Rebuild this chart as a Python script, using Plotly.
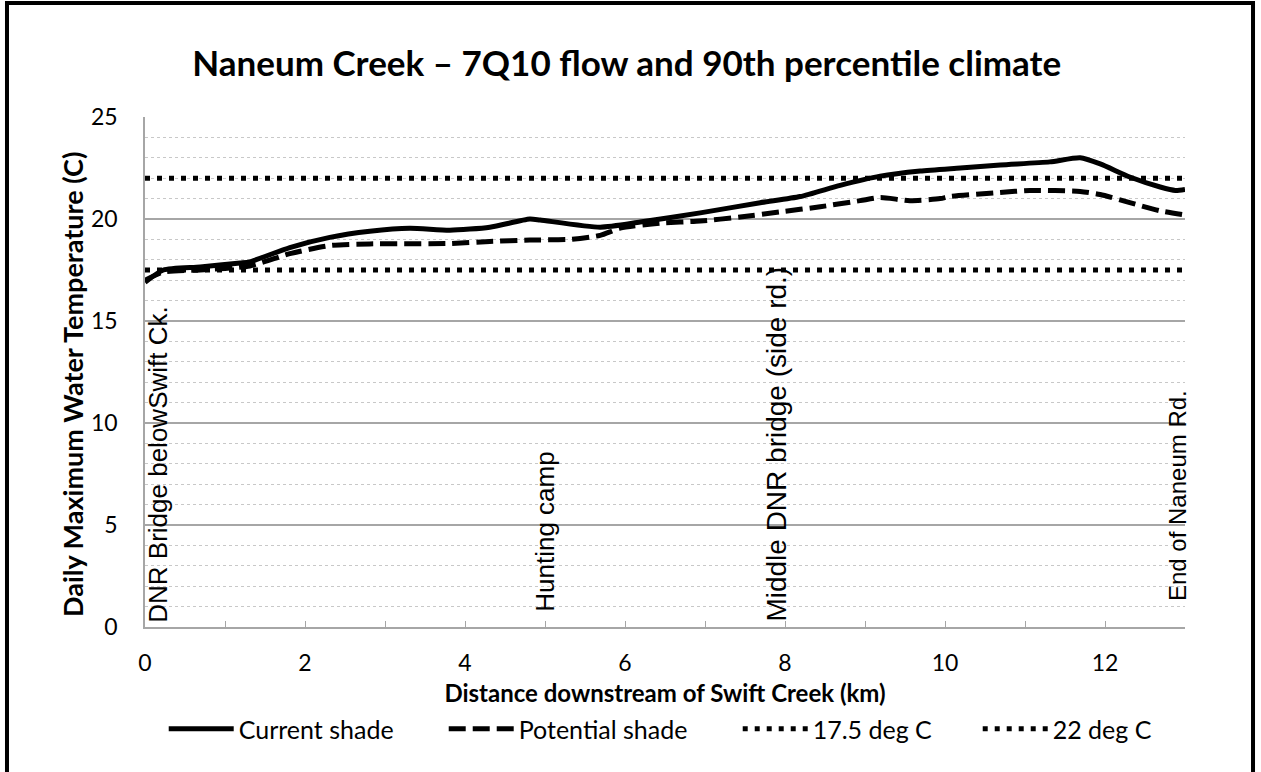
import plotly.graph_objects as go

# distance downstream (km) and temperatures (C)
current_km = [0.0, 0.23, 0.69, 1.19, 1.31, 1.81, 2.31, 2.81, 3.31, 3.81, 4.31, 4.81, 4.94,
              5.69, 6.19, 6.94, 7.69, 8.19, 8.69, 9.19, 9.69, 10.19, 10.69, 11.31, 11.69,
              11.94, 12.31, 12.69, 12.88, 13.0]
current_temp = [16.9, 17.5, 17.65, 17.84, 17.9, 18.6, 19.1, 19.4, 19.55, 19.45, 19.6, 20.0, 19.95,
                19.6, 19.85, 20.3, 20.8, 21.1, 21.65, 22.1, 22.35, 22.5, 22.65, 22.8, 23.0,
                22.7, 22.06, 21.57, 21.4, 21.45]

potential_km = [0.0, 0.23, 0.69, 1.31, 1.81, 2.31, 2.81, 3.81, 4.31, 4.81, 5.31, 5.69, 5.94,
                6.44, 6.94, 7.44, 7.94, 8.44, 8.94, 9.19, 9.56, 9.94, 10.06, 10.69, 11.06,
                11.69, 11.94, 12.31, 12.69, 13.0]
potential_temp = [17.0, 17.4, 17.5, 17.7, 18.3, 18.7, 18.78, 18.8, 18.9, 18.97, 19.0, 19.2, 19.55,
                  19.8, 19.9, 20.1, 20.35, 20.6, 20.9, 21.05, 20.9, 21.0, 21.1, 21.3, 21.4,
                  21.35, 21.2, 20.8, 20.4, 20.2]

threshold_km = [0, 13]
threshold_low = [17.5, 17.5]
threshold_high = [22, 22]

landmark_names = ["DNR Bridge belowSwift Ck.", "Hunting camp",
                  "Middle DNR bridge (side rd.)", "End of Naneum Rd."]
landmark_km = [0.16, 5.0, 7.89, 12.9]
landmark_base = [0.15, 0.7, 0.2, 1.2]
landmark_font_size = [26, 26, 28, 24]

FONT = "Lato"
LABEL_FONT = "Liberation Sans"
DOTS = "5px,7px"

fig = go.Figure()

fig.add_trace(go.Scatter(x=current_km, y=current_temp, mode="lines", name="Current shade",
                         legendwidth=200,
                         line=dict(color="black", width=5, shape="spline", smoothing=0.6)))
fig.add_trace(go.Scatter(x=potential_km, y=potential_temp, mode="lines", name="Potential shade",
                         legendwidth=214,
                         line=dict(color="black", width=5, shape="spline", smoothing=0.6,
                                   dash="17px,7px")))
fig.add_trace(go.Scatter(x=threshold_km, y=threshold_low, mode="lines", name="17.5 deg C",
                         legendwidth=160,
                         line=dict(color="black", width=5, dash=DOTS)))
fig.add_trace(go.Scatter(x=threshold_km, y=threshold_high, mode="lines", name="22 deg C",
                         legendwidth=100,
                         line=dict(color="black", width=5, dash=DOTS)))

for name, km, base, size in zip(landmark_names, landmark_km, landmark_base, landmark_font_size):
    fig.add_annotation(x=km, y=base, text=name, textangle=-90, showarrow=False,
                       xanchor="center", yanchor="bottom", borderpad=0,
                       font=dict(family=LABEL_FONT, size=size, color="black"))

# y axis title placed by hand
fig.add_annotation(xref="paper", yref="paper", x=-0.069, y=0.475,
                   text="<b>Daily Maximum Water Temperature (C)</b>", textangle=-90,
                   showarrow=False, xanchor="center", yanchor="middle",
                   font=dict(family=FONT, size=27, color="black"))

# outer chart border
fig.add_shape(type="rect", xref="paper", yref="paper",
              x0=-0.1327, x1=1.0654, y0=-0.29, y1=1.2235,
              line=dict(color="black", width=4))

fig.update_layout(
    width=1261, height=772,
    margin=dict(l=145, r=76, t=117, b=145),
    paper_bgcolor="white", plot_bgcolor="white",
    font=dict(family=FONT, color="black"),
    title=dict(text="<b>Naneum Creek \u2013 7Q10 flow and 90th percentile climate</b>",
               x=0.497, xanchor="center", y=0.918, yanchor="middle",
               font=dict(family=FONT, size=35, color="black")),
    showlegend=True,
    legend=dict(orientation="h", x=0.018, xanchor="left", y=-0.2, yanchor="middle",
                font=dict(family=FONT, size=25, color="black"), itemwidth=65,
                bgcolor="rgba(0,0,0,0)"),
    xaxis=dict(range=[0, 13], dtick=2, tick0=0, showgrid=False, zeroline=False,
               showline=True, linecolor="#a6a6a6", linewidth=1.5,
               ticks="inside", ticklen=6, tickcolor="#a6a6a6",
               minor=dict(dtick=1, ticks="inside", ticklen=6, tickcolor="#a6a6a6"),
               tickfont=dict(family=FONT, size=23), ticklabelstandoff=15,
               title=dict(text="<b>Distance downstream of Swift Creek (km)</b>",
                          font=dict(family=FONT, size=24), standoff=10)),
    yaxis=dict(range=[0, 25], dtick=5, showgrid=True, gridcolor="#a6a6a6", gridwidth=1.5,
               zeroline=False, showline=True, linecolor="#a6a6a6", linewidth=1.5,
               ticks="", tickfont=dict(family=FONT, size=23), ticklabelstandoff=21,
               minor=dict(dtick=1, showgrid=True, gridcolor="#c8c8c8", griddash="dot",
                          gridwidth=1)),
)

# drop the browser's default page margin so the figure sits at the window origin
fig.write_html("out.html", config={"displayModeBar": False},
               post_script="document.body.style.margin='0';")
